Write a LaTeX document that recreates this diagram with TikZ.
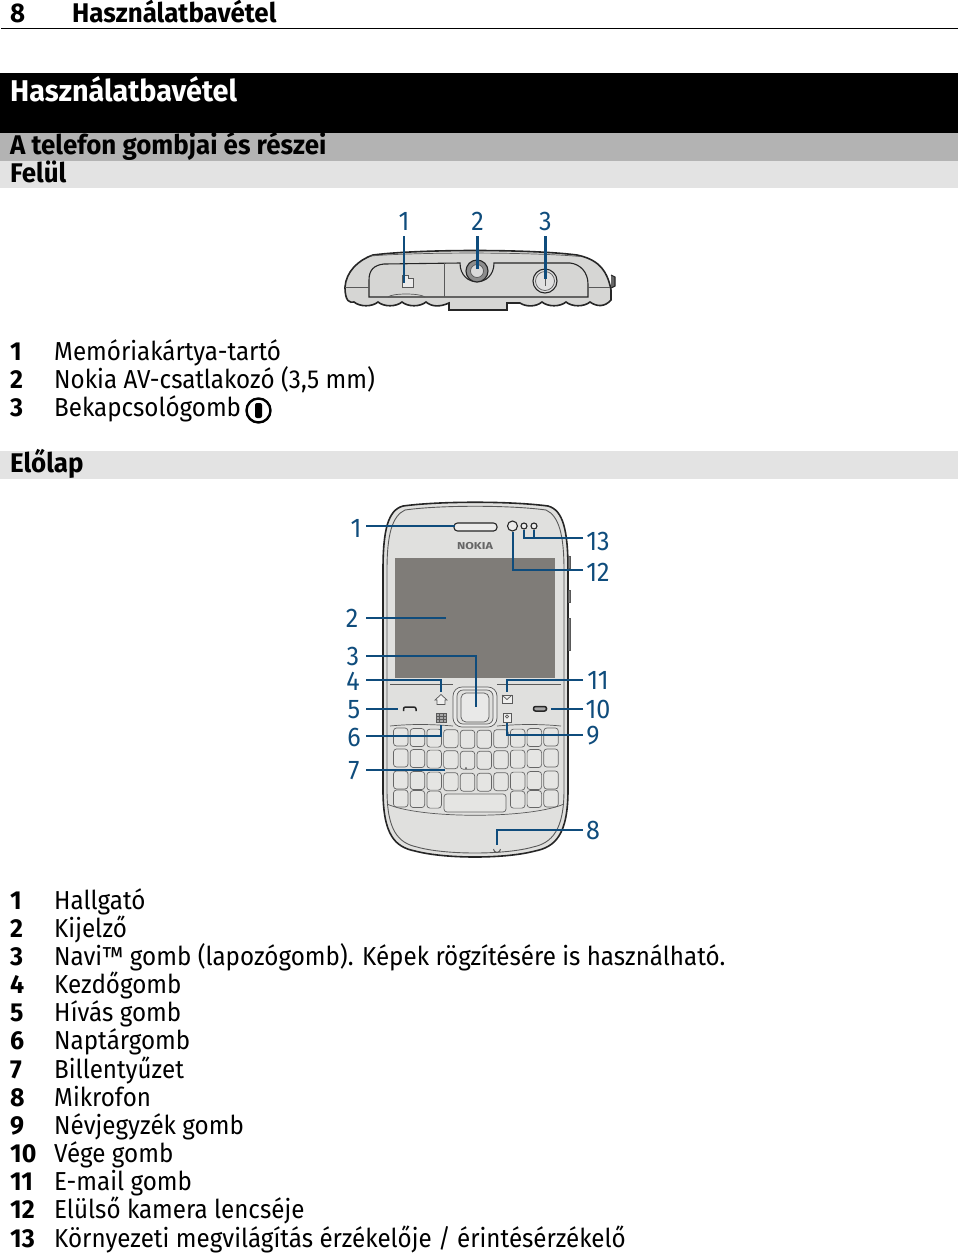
\documentclass[tikz,border=0pt]{standalone}
\usepackage{fontspec}
\setmainfont[FakeStretch=0.93, BoldFeatures={FakeStretch=0.96}]{Fira Sans}
\usetikzlibrary{positioning}

\definecolor{leaderblue}{HTML}{0F4C7C}
\definecolor{phonebody}{HTML}{E0E0DE}
\definecolor{phonetop}{HTML}{D6D6D4}
\definecolor{phonescreen}{HTML}{7F7C78}
\definecolor{bargray}{HTML}{B3B3B3}
\definecolor{barlight}{HTML}{E3E3E3}

\begin{document}
\begin{tikzpicture}[
  x=1pt, y=-1pt,
  item/.style={anchor=base west, inner sep=0pt, font=\fontsize{26}{28}\selectfont},
  itemnum/.style={item, font=\fontsize{26}{28}\selectfont\bfseries},
  heading/.style={anchor=base west, inner sep=0pt, font=\fontsize{27}{30}\selectfont\bfseries},
  partlabel/.style={text=leaderblue, inner sep=0pt, text height=18pt, text depth=0pt, font=\fontsize{27}{30}\selectfont},
  leader/.style={draw=leaderblue, line width=2.1pt},
  phone/.style={draw=black!85, line width=1.1pt},
  thinline/.style={draw=black!65, line width=0.7pt},
  keycap/.style={draw=black!60, line width=0.7pt, fill=phonebody!85!white, rounded corners=3pt}
]
\useasboundingbox (0,0) rectangle (960,1254);

% =========================
% Header and bars
% =========================
\node[heading, inner sep=0pt] (pagenum) at (10,22) {8};
\node[heading] (pagetitle) at (72,22) {Használatbavétel};
\draw[line width=1.5pt] (1,28.5) -- (958,28.5);

\fill[black] (0,73) rectangle (958,133);
\fill[bargray] (0,133) rectangle (958,161);
\fill[barlight] (0,161) rectangle (958,188);
\fill[barlight] (0,451) rectangle (958,479);

\node[heading, text=white, font=\fontsize{30}{32}\selectfont\bfseries] (chapter) at (10,101) {Használatbavétel};
\node[heading] (section) at (10,154) {A telefon gombjai és részei};
\node[heading] (felul) at (10,182) {Felül};
\node[heading] (elolap) at (10,472) {Előlap};

% =========================
% Top view of the phone
% =========================
\draw[phone, line width=1.6pt, fill=phonetop]
  (345,287) .. controls (346,272) and (358,260) .. (373,255)
  .. controls (420,249) and (530,249) .. (577,255)
  .. controls (596,259) and (607,268) .. (611,290)
  -- (611,300)
  .. controls (605,307) and (597,307) .. (590,302)
  .. controls (584,307) and (572,307) .. (566,302)
  .. controls (560,307) and (548,307) .. (542,302)
  .. controls (536,307) and (526,307) .. (520,303)
  -- (507,303) -- (507,310) -- (449,310) -- (449,303)
  .. controls (440,307) and (432,307) .. (426,302)
  .. controls (420,307) and (408,307) .. (402,302)
  .. controls (396,307) and (384,307) .. (378,302)
  .. controls (372,307) and (360,307) .. (354,302)
  .. controls (350,303) and (345,302) .. cycle;
\draw[phone, fill=black!60] (611,275) -- (615,277) -- (615,286) -- (611,288);
\draw[thinline] (370,256) .. controls (420,252) and (530,252) .. (580,256.5);
\draw[phone, fill=phonetop]
  (369,297) -- (369,280) .. controls (369,270) and (374,265) .. (384,264)
  -- (460,263) .. controls (460,288) and (494,288) .. (494,263)
  -- (570,263) .. controls (580,264) and (588,272) .. (588,284)
  -- (588,297) -- cycle;
\draw[thinline] (444,263) -- (444,297);
\draw[thinline] (345,287) -- (369,287);
\draw[thinline] (588,287) -- (610,287);
\draw[thinline] (388,297) .. controls (392,293) and (420,293) .. (425,297);
\draw[thinline, fill=black!8] (402,275) -- (408,275) -- (408,278) -- (413,278) -- (413,287) -- (402,287) -- cycle;
\draw[phone, fill=black!45] (477,271) circle (11);
\draw[thinline, fill=black!15] (477,271) circle (6.5);
\draw[phone, fill=black!12] (545,281) circle (12);
\draw[thinline] (545,281) circle (9.5);
\draw[thinline, line width=1pt] (545,276) -- (545,286);

\node[partlabel] (topone) at (404,221) {1};
\node[partlabel] (toptwo) at (477.5,221) {2};
\node[partlabel] (topthree) at (545.5,221) {3};
\coordinate (cardslot) at (404,283);
\coordinate (avjack) at (477.5,269);
\coordinate (powerkey) at (545.5,279);
\draw[leader] (404,236) -- (cardslot);
\draw[leader] (477.5,236) -- (avjack);
\draw[leader] (545.5,236) -- (powerkey);

% =========================
% Top view list
% =========================
\foreach \num/\txt [count=\i from 0] in {1/Memóriakártya-tartó, 2/{Nokia AV-csatlakozó (3,5 mm)}, 3/Bekapcsológomb}{
  \node[itemnum] (topnum\num) at (10,360+28.3*\i) {\num};
  \node[item] (toptxt\num) at (54,360+28.3*\i) {\txt};
}
\draw[line width=2.4pt, fill=white] (258.5,410.5) circle (12);
\fill[black, rounded corners=2pt] (255,403) rectangle (262,418);

% =========================
% Front view of the phone
% =========================
\draw[phone, line width=1.6pt, fill=phonebody]
  (383,570) .. controls (383,530) and (388,510) .. (403,506)
  .. controls (440,501) and (510,501) .. (548,506)
  .. controls (563,510) and (568,530) .. (568,570)
  -- (568,790)
  .. controls (568,835) and (555,847) .. (535,851)
  .. controls (505,859) and (445,859) .. (415,851)
  .. controls (395,847) and (383,835) .. (383,790) -- cycle;
\draw[thinline, line width=0.9pt]
  (387,570) .. controls (387,535) and (392,516) .. (405,510)
  .. controls (440,505) and (510,505) .. (546,510)
  .. controls (559,516) and (564,535) .. (564,570)
  -- (564,790)
  .. controls (564,830) and (552,843) .. (533,847)
  .. controls (505,855) and (445,855) .. (417,847)
  .. controls (398,843) and (387,830) .. (387,790) -- cycle;
\draw[thinline, fill=black!50] (568,556) rectangle (570,568);
\draw[thinline, fill=black!50] (568,590) rectangle (570,602);
\draw[thinline, fill=black!50] (568,618) rectangle (570,650);
\fill[phonescreen] (395,558) rectangle (555,678);

% speaker, camera and sensors
\draw[phone, fill=phonebody!60!white, rounded corners=3.5pt] (454,523) rectangle (497,531);
\draw[phone, fill=phonebody!60!white] (512.5,526) circle (5);
\draw[phone, fill=phonebody!60!white] (524,526) circle (3);
\draw[phone, fill=phonebody!60!white] (534,526) circle (3);
\node[inner sep=0pt, text=black!60, xscale=1.3, font=\fontsize{10}{10}\selectfont\bfseries] (brand) at (475,546) {NOKIA};

% navi key and soft key area
\draw[thinline] (390,684) -- (453,684);
\draw[thinline] (497,684) -- (561,684);
\draw[thinline] (390,726) .. controls (410,724) and (430,724) .. (453,726);
\draw[thinline] (497,726) .. controls (520,724) and (540,724) .. (561,726);
\draw[thinline, fill=phonebody!70!white, rounded corners=9pt] (453,687) rectangle (497,727);
\draw[thinline, fill=phonebody, rounded corners=6pt] (457,690) rectangle (493,724);
\draw[thinline, fill=phonebody!70!white, rounded corners=5pt] (461,693) rectangle (489,722);

\draw[phone, line width=1.5pt, rounded corners=2pt] (403.5,711) -- (403.5,707) -- (416,707) -- (416,711);
\draw[phone, line width=1.5pt, fill=black!35, rounded corners=2pt] (533.5,711) -- (533.5,706.5) -- (546.5,706.5) -- (546.5,711) -- cycle;

% home, mail, calendar and contacts icons
\draw[thinline, fill=phonebody!50!white] (435,700) -- (441,694.5) -- (447,700) -- (445,700) -- (445,704.5) -- (437,704.5) -- (437,700) -- cycle;
\draw[thinline, fill=phonebody!50!white] (502,695) rectangle (512,703);
\draw[thinline] (502,695) -- (507,699.5) -- (512,695);
\draw[thinline, fill=black!35] (436.5,713) rectangle (446,722);
\draw[thinline] (439.5,713) -- (439.5,722) (443,713) -- (443,722) (436.5,716) -- (446,716) (436.5,719) -- (446,719);
\draw[thinline, fill=phonebody!50!white] (503,713) rectangle (511,722);
\draw[thinline] (507,716.5) circle (1.7);

% keyboard
\foreach \c in {0,...,9}{
  \pgfmathsetmacro{\kx}{393.5+16.7*\c}
  \pgfmathsetmacro{\ky}{2.5*(1-abs(\c-4.5)/4.5)}
  \draw[keycap] (\kx,728+\ky) rectangle (\kx+14.5,746+\ky);
  \draw[keycap] (\kx,749+\ky) rectangle (\kx+14.5,767+\ky);
  \draw[keycap] (\kx,771+\ky) rectangle (\kx+14.5,789+\ky);
}
\foreach \c in {0,1,2,7,8,9}{
  \pgfmathsetmacro{\kx}{393.5+16.7*\c}
  \pgfmathsetmacro{\ky}{2.5*(1-abs(\c-4.5)/4.5)}
  \draw[keycap] (\kx,790+\ky) rectangle (\kx+14.5,807+\ky);
}
\draw[keycap] (444,794) rectangle (506,812);
\fill[black!70] (466,768) circle (1);
\draw[thinline] (387,804) .. controls (420,819) and (530,819) .. (564,804);

% microphone
\draw[thinline, line width=1pt] (493.5,849) arc (180:0:3.5);

% =========================
% Front view leaders
% =========================
\node[partlabel] (frontone) at (356,528) {1};
\node[partlabel] (fronttwo) at (352,618) {2};
\node[partlabel] (frontthree) at (353,656) {3};
\node[partlabel] (frontfour) at (353,681) {4};
\node[partlabel] (frontfive) at (354,709) {5};
\node[partlabel] (frontsix) at (354,737) {6};
\node[partlabel] (frontseven) at (354,770) {7};
\node[partlabel] (fronteight) at (593,830) {8};
\node[partlabel] (frontnine) at (593,735) {9};
\node[partlabel] (frontten) at (598,709) {10};
\node[partlabel] (fronteleven) at (598,680) {11};
\node[partlabel] (fronttwelve) at (598,572) {12};
\node[partlabel] (frontthirteen) at (598,541) {13};

\coordinate (earpiece) at (455,526);
\coordinate (display) at (446,618);
\coordinate (navikey) at (476,707);
\coordinate (homekey) at (441,692);
\coordinate (callkey) at (398,709);
\coordinate (calendarkey) at (441,725);
\coordinate (keypad) at (445,770);
\coordinate (micro) at (497,845);
\coordinate (contactskey) at (507,723);
\coordinate (endkey) at (551,709);
\coordinate (mailkey) at (507,692);
\coordinate (camera) at (513,532);
\coordinate (sensorone) at (524,530);
\coordinate (sensortwo) at (534,530);

\draw[leader] (366,526) -- (earpiece);
\draw[leader] (366,618) -- (display);
\draw[leader] (366,656) -| (navikey);
\draw[leader] (366,680) -| (homekey);
\draw[leader] (366,709) -- (callkey);
\draw[leader] (366,736) -| (calendarkey);
\draw[leader] (366,770) -- (keypad);
\draw[leader] (583,830) -| (micro);
\draw[leader] (583,735) -| (contactskey);
\draw[leader] (583,709) -- (endkey);
\draw[leader] (583,680) -| (mailkey);
\draw[leader] (583,570) -| (camera);
\draw[leader] (583,538) -| (sensorone);
\draw[leader] (534,538) -- (sensortwo);

% =========================
% Front view list
% =========================
\foreach \num/\txt [count=\i from 0] in {1/Hallgató, 2/Kijelző, 3/{Navi™ gomb (lapozógomb). Képek rögzítésére is használható.}, 4/Kezdőgomb, 5/Hívás gomb, 6/Naptárgomb, 7/Billentyűzet, 8/Mikrofon, 9/Névjegyzék gomb, 10/Vége gomb, 11/E-mail gomb, 12/Elülső kamera lencséje, 13/{Környezeti megvilágítás érzékelője / érintésérzékelő}}{
  \node[itemnum] (frontnum\num) at (10,909+28.17*\i) {\num};
  \node[item] (fronttxt\num) at (54,909+28.17*\i) {\txt};
}
\end{tikzpicture}
\end{document}
